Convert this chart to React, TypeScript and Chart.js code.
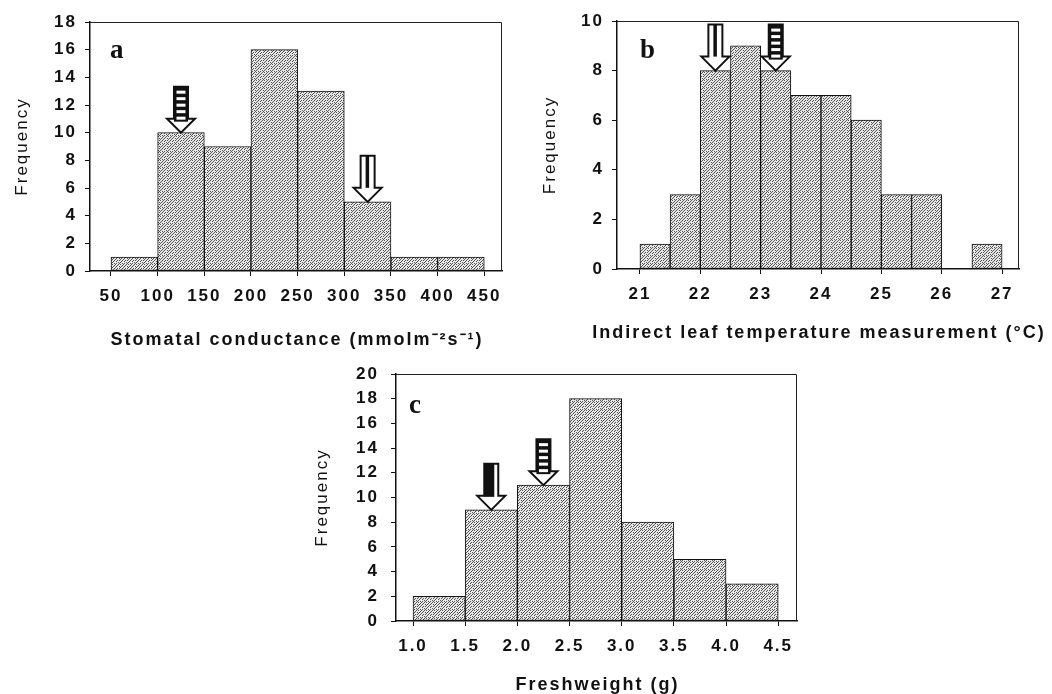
import React, { useEffect, useRef } from 'react';
import { Chart, registerables } from 'chart.js';

Chart.register(...registerables);

// ---------- Panel a: stomatal conductance ----------
const binCentersA = [75, 125, 175, 225, 275, 325, 375, 425];
const countsA = [1, 10, 9, 16, 13, 5, 1, 1];
const xTicksA = [50, 100, 150, 200, 250, 300, 350, 400, 450];
const arrowXA = [125, 325];
const arrowYA = [10, 5];
const arrowKindA = ['striped', 'lined'];

// ---------- Panel b: leaf temperature ----------
const binCentersB = [21.25, 21.75, 22.25, 22.75, 23.25, 23.75, 24.25, 24.75, 25.25, 25.75, 26.25, 26.75];
const countsB = [1, 3, 8, 9, 8, 7, 7, 6, 3, 3, 0, 1];
const xTicksB = [21, 22, 23, 24, 25, 26, 27];
const arrowXB = [22.25, 23.25];
const arrowYB = [8, 8];
const arrowKindB = ['lined', 'striped'];

// ---------- Panel c: fresh weight ----------
const binCentersC = [1.25, 1.75, 2.25, 2.75, 3.25, 3.75, 4.25];
const countsC = [2, 9, 11, 18, 8, 5, 3];
const xTicksC = [1.0, 1.5, 2.0, 2.5, 3.0, 3.5, 4.0, 4.5];
const arrowXC = [1.75, 2.25];
const arrowYC = [9, 11];
const arrowKindC = ['solid', 'striped'];

const FONT = '"Liberation Sans", Arial, sans-serif';
Chart.defaults.font.family = FONT;
Chart.defaults.color = '#111';

const STIPPLE = [
  '10010010',
  '00100100',
  '01001001',
  '10010000',
  '00100101',
  '01001000',
  '10000010',
  '00101001',
];

function makePattern(ctx: CanvasRenderingContext2D): CanvasPattern | string {
  const off = document.createElement('canvas');
  off.width = 8;
  off.height = 8;
  const o = off.getContext('2d');
  if (!o) return '#b8b8b8';
  o.fillStyle = '#e6e6e6';
  o.fillRect(0, 0, 8, 8);
  o.fillStyle = '#555555';
  STIPPLE.forEach((row, y) => {
    for (let x = 0; x < row.length; x++) if (row[x] === '1') o.fillRect(x, y, 1, 1);
  });
  return ctx.createPattern(off, 'repeat') || '#b8b8b8';
}

function drawArrow(ctx: CanvasRenderingContext2D, cx: number, tipY: number, kind: string) {
  const total = 46, headH = 14, shaftW = 14, headW = 28;
  const top = tipY - total;
  const headTop = tipY - headH;
  const sl = cx - shaftW / 2;
  const sr = cx + shaftW / 2;
  ctx.save();
  const path = new Path2D();
  path.moveTo(sl, top);
  path.lineTo(sr, top);
  path.lineTo(sr, headTop);
  path.lineTo(cx + headW / 2, headTop);
  path.lineTo(cx, tipY);
  path.lineTo(cx - headW / 2, headTop);
  path.lineTo(sl, headTop);
  path.closePath();
  ctx.fillStyle = '#fff';
  ctx.fill(path);
  ctx.fillStyle = '#111';
  if (kind === 'striped') {
    ctx.fillRect(sl, top, shaftW, headTop - top + 3);
    ctx.fillStyle = '#fff';
    for (let y = top + 4; y < headTop + 2; y += 6.5) ctx.fillRect(sl + 2.5, y, shaftW - 5, 3);
  } else if (kind === 'lined') {
    ctx.fillRect(cx - 2, top, 3.5, headTop - top);
  } else {
    ctx.fillRect(sl, top, shaftW - 4, headTop - top + 1);
  }
  ctx.strokeStyle = '#111';
  ctx.lineWidth = 2;
  ctx.lineJoin = 'miter';
  ctx.stroke(path);
  ctx.restore();
}

interface PanelProps {
  left: number; top: number; width: number; height: number;
  padRight: number; padTop: number;
  yAxisWidth: number; xAxisHeight: number;
  xMin: number; xMax: number; yMax: number;
  centers: number[]; counts: number[]; xTicks: number[];
  arrowX: number[]; arrowY: number[]; arrowKind: string[];
  decimals: number;
  xTitle: string; xTitleY: number;
  yTitlePadTop: number; yTickPad: number;
  letter: string; letterDx: number; letterDy: number;
}

function Panel(p: PanelProps) {
  const ref = useRef<HTMLCanvasElement>(null);
  useEffect(() => {
    const canvas = ref.current;
    if (!canvas) return;
    const ctx = canvas.getContext('2d');
    if (!ctx) return;
    const pattern = makePattern(ctx);

    const decor = {
      id: 'decor' + p.letter,
      beforeDraw(chart: any) {
        chart.ctx.letterSpacing = '2px';
      },
      afterDatasetsDraw(chart: any) {
        const c = chart.ctx as CanvasRenderingContext2D;
        const xs = chart.scales.x;
        const ys = chart.scales.y;
        for (let i = 0; i < p.arrowX.length; i++) {
          drawArrow(c, xs.getPixelForValue(p.arrowX[i]), ys.getPixelForValue(p.arrowY[i]), p.arrowKind[i]);
        }
      },
      afterDraw(chart: any) {
        const c = chart.ctx as CanvasRenderingContext2D;
        const a = chart.chartArea;
        c.save();
        c.strokeStyle = '#222';
        c.lineWidth = 1;
        c.beginPath();
        c.moveTo(a.left, a.top + 0.5);
        c.lineTo(a.right - 0.5, a.top + 0.5);
        c.lineTo(a.right - 0.5, a.bottom);
        c.stroke();
        // x axis title (drawn here so it may extend past the plot width)
        c.letterSpacing = '2px';
        c.fillStyle = '#111';
        c.font = 'bold 18px ' + FONT;
        c.textAlign = 'center';
        c.textBaseline = 'middle';
        c.fillText(p.xTitle, (a.left + a.right) / 2 + 1, p.xTitleY);
        // panel letter
        c.letterSpacing = '0px';
        c.font = 'bold 27px "Liberation Serif", "Times New Roman", serif';
        c.textAlign = 'left';
        c.textBaseline = 'alphabetic';
        c.fillText(p.letter, a.left + p.letterDx, a.top + p.letterDy);
        c.restore();
      },
    };

    const chart = new Chart(canvas, {
      type: 'bar',
      data: {
        datasets: [
          {
            data: p.centers.map((x, i) => ({ x, y: p.counts[i] })) as any,
            backgroundColor: pattern as any,
            borderColor: '#111',
            borderWidth: 1,
            borderSkipped: false,
            barPercentage: 1,
            categoryPercentage: 1,
          },
        ],
      },
      options: {
        responsive: false,
        animation: false,
        events: [],
        layout: { padding: { left: 0, top: p.padTop, right: p.padRight, bottom: 0 } },
        plugins: { legend: { display: false }, tooltip: { enabled: false }, title: { display: false } },
        scales: {
          x: {
            type: 'linear',
            min: p.xMin,
            max: p.xMax,
            offset: false,
            afterBuildTicks: (scale: any) => {
              scale.ticks = p.xTicks.map((v) => ({ value: v }));
            },
            afterFit: (scale: any) => {
              scale.height = p.xAxisHeight;
            },
            grid: { display: true, drawOnChartArea: false, drawTicks: true, tickLength: 5, color: '#111', offset: false },
            border: { display: true, color: '#111', width: 1.5 },
            ticks: {
              autoSkip: false,
              maxRotation: 0,
              padding: 10,
              color: '#111',
              font: { size: 17, weight: 'bold' },
              callback: (v: any) => Number(v).toFixed(p.decimals),
            },
            title: { display: false },
          } as any,
          y: {
            type: 'linear',
            min: 0,
            max: p.yMax,
            afterFit: (scale: any) => {
              scale.width = p.yAxisWidth;
            },
            grid: { display: true, drawOnChartArea: false, drawTicks: true, tickLength: 5, color: '#111' },
            border: { display: true, color: '#111', width: 1.5 },
            ticks: {
              stepSize: 2,
              padding: p.yTickPad,
              color: '#111',
              font: { size: 17, weight: 'bold' },
            },
            title: {
              display: true,
              text: 'Frequency',
              color: '#111',
              font: { size: 17, weight: 'normal' },
              padding: { top: p.yTitlePadTop, bottom: 0 },
            },
          } as any,
        },
      },
      plugins: [decor],
    });
    return () => chart.destroy();
  }, []);
  return (
    <canvas
      ref={ref}
      width={p.width}
      height={p.height}
      style={{ position: 'absolute', left: p.left, top: p.top, width: p.width, height: p.height }}
    />
  );
}

export default function App() {
  return (
    <div style={{ position: 'fixed', left: 0, top: 0, width: 1052, height: 694, background: '#fff', overflow: 'hidden' }}>
      <Panel
        left={0} top={0} width={520} height={360}
        padRight={18} padTop={22} yAxisWidth={90} xAxisHeight={89}
        xMin={27.5} xMax={469} yMax={18}
        centers={binCentersA} counts={countsA} xTicks={xTicksA}
        arrowX={arrowXA} arrowY={arrowYA} arrowKind={arrowKindA}
        decimals={0}
        xTitle={'Stomatal conductance (mmolm\u207B\u00B2s\u207B\u00B9)'} xTitleY={340}
        yTitlePadTop={12} yTickPad={8}
        letter="a" letterDx={20} letterDy={36}
      />
      <Panel
        left={520} top={0} width={532} height={360}
        padRight={33} padTop={21} yAxisWidth={97} xAxisHeight={91}
        xMin={20.62} xMax={27.28} yMax={10}
        centers={binCentersB} counts={countsB} xTicks={xTicksB}
        arrowX={arrowXB} arrowY={arrowYB} arrowKind={arrowKindB}
        decimals={0}
        xTitle={'Indirect leaf temperature measurement (\u00B0C)'} xTitleY={333}
        yTitlePadTop={20} yTickPad={8}
        letter="b" letterDx={23} letterDy={37}
      />
      <Panel
        left={290} top={330} width={520} height={364}
        padRight={13} padTop={44} yAxisWidth={106} xAxisHeight={73}
        xMin={0.837} xMax={4.68} yMax={20}
        centers={binCentersC} counts={countsC} xTicks={xTicksC}
        arrowX={arrowXC} arrowY={arrowYC} arrowKind={arrowKindC}
        decimals={1}
        xTitle={'Freshweight (g)'} xTitleY={355}
        yTitlePadTop={22} yTickPad={12}
        letter="c" letterDx={13} letterDy={39}
      />
    </div>
  );
}
